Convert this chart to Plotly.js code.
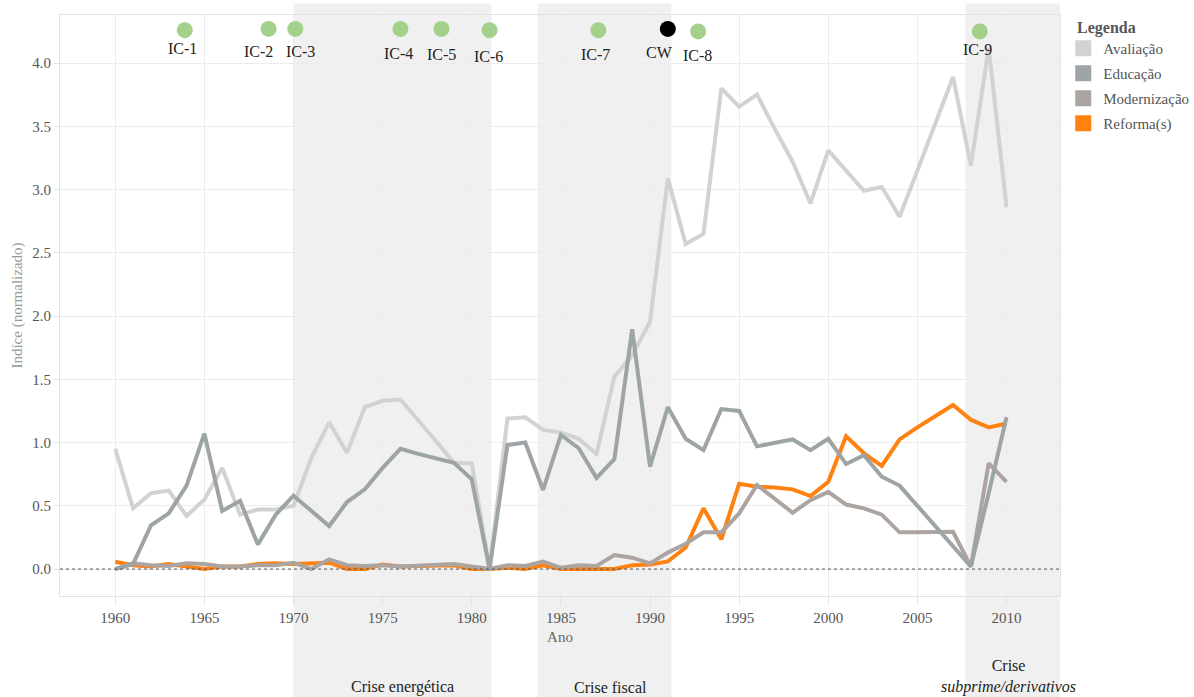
<!DOCTYPE html>
<html>
<head>
<meta charset="utf-8">
<script src="https://cdn.plot.ly/plotly-3.0.1.min.js"></script>
<style>
html,body{margin:0;padding:0;background:#fff;}
#chart{width:1194px;height:697px;}
</style>
</head>
<body>
<div id="chart"></div>
<script>
// ---- data ----
var years = [1960,1961,1962,1963,1964,1965,1966,1967,1968,1969,
             1970,1971,1972,1973,1974,1975,1976,1977,1978,1979,
             1980,1981,1982,1983,1984,1985,1986,1987,1988,1989,
             1990,1991,1992,1993,1994,1995,1996,1997,1998,1999,
             2000,2001,2002,2003,2004,2005,2006,2007,2008,2009,
             2010];
var avaliacao = [0.95,0.48,0.60,0.62,0.42,0.55,0.80,0.43,0.47,0.47,
                 0.50,0.88,1.16,0.92,1.28,1.33,1.34,1.18,1.01,0.84,
                 0.835,0.01,1.19,1.20,1.10,1.08,1.03,0.91,1.52,1.69,
                 1.955,3.09,2.57,2.65,3.80,3.655,3.75,3.48,3.22,2.89,
                 3.31,3.15,2.99,3.02,2.785,3.15,3.52,3.89,3.19,4.12,
                 2.86];
var educacao = [0.0,0.04,0.345,0.44,0.66,1.07,0.46,0.54,0.195,0.43,
                0.58,0.46,0.34,0.53,0.63,0.80,0.95,0.91,0.875,0.84,
                0.71,0.0,0.98,1.0,0.625,1.06,0.955,0.72,0.87,1.895,
                0.81,1.28,1.03,0.94,1.265,1.25,0.97,0.995,1.025,0.94,
                1.03,0.83,0.90,0.73,0.66,0.50,0.34,0.18,0.02,0.60,
                1.20];
var modernizacao = [0.0,0.045,0.03,0.025,0.045,0.04,0.02,0.02,0.03,0.03,
                    0.05,0.0,0.077,0.03,0.025,0.03,0.02,0.025,0.03,0.04,
                    0.02,0.0,0.03,0.025,0.06,0.01,0.03,0.025,0.11,0.09,
                    0.045,0.13,0.20,0.29,0.29,0.44,0.665,0.55,0.445,0.545,
                    0.61,0.51,0.48,0.43,0.29,0.29,0.29,0.295,0.02,0.835,
                    0.69];
var reformas = [0.058,0.03,0.02,0.04,0.02,0.0,0.02,0.02,0.04,0.045,
                0.04,0.045,0.05,0.0,0.0,0.035,0.02,0.025,0.03,0.03,
                0.0,0.0,0.01,0.0,0.03,0.0,0.0,0.0,0.0,0.03,
                0.035,0.06,0.17,0.48,0.235,0.675,0.65,0.645,0.63,0.577,
                0.69,1.05,0.915,0.815,1.025,1.12,1.21,1.297,1.18,1.12,
                1.15];

var seriesNames = ['Avaliação','Educação','Modernização','Reforma(s)'];
var seriesColors = ['#d2d2d2','#9da4a6','#aca4a1','#ff8210'];

var eventLabels = ['IC-1','IC-2','IC-3','IC-4','IC-5','IC-6','IC-7','CW','IC-8','IC-9'];
var eventYears  = [1963.9,1968.6,1970.1,1976.0,1978.3,1981.0,1987.1,1991.0,1992.7,2008.5];
var eventLevel  = [4.26,4.27,4.27,4.27,4.27,4.26,4.26,4.27,4.25,4.25];
var eventColors = ['#a3d18c','#a3d18c','#a3d18c','#a3d18c','#a3d18c','#a3d18c','#a3d18c','#000000','#a3d18c','#a3d18c'];

var crisisNames = ['Crise energética','Crise fiscal','Crise<br><i>subprime/derivativos</i>'];
var crisisStart = [1970.0,1983.7,2007.7];
var crisisEnd   = [1981.1,1991.2,2013.5];
var crisisLabelX = [1976.1,1987.8,2010.1];

var xTicks = [1960,1965,1970,1975,1980,1985,1990,1995,2000,2005,2010];
var yTicks = [0,0.5,1,1.5,2,2.5,3,3.5,4];
var yTickText = ['0.0','0.5','1.0','1.5','2.0','2.5','3.0','3.5','4.0'];

// ---- styling helpers (pixel offsets of the event labels) ----
var labelDX = [-2,-10,5,-2,0,-1,-3,-8,-1,-2];
var labelDY = [-18,-23,-23,-25,-26,-26,-24,-24,-24,-18];

// ---- traces ----
var FONT = 'Liberation Serif, Times New Roman, serif';
var seriesData = [avaliacao, educacao, modernizacao, reformas];
var drawOrder = [0,3,2,1];
var traces = [];
drawOrder.forEach(function(i){
  traces.push({
    type:'scatter', mode:'lines', x:years, y:seriesData[i],
    name:seriesNames[i], legendgroup:seriesNames[i], showlegend:false,
    line:{color:seriesColors[i], width:4}, hoverinfo:'x+y+name'
  });
});
// legend swatches (square)
for (var i=0;i<seriesNames.length;i++){
  traces.push({
    type:'scatter', mode:'markers', x:[null], y:[null],
    name:seriesNames[i], legendgroup:seriesNames[i], showlegend:true,
    marker:{symbol:'square', size:18, color:seriesColors[i]}
  });
}
traces.push({
  type:'scatter', mode:'markers', x:eventYears, y:eventLevel,
  text:eventLabels, marker:{size:16, color:eventColors},
  showlegend:false, hoverinfo:'text', cliponaxis:false
});

// ---- shapes & annotations ----
var shapes = [];
var annotations = [];
for (var k=0;k<crisisNames.length;k++){
  shapes.push({type:'rect', xref:'x', yref:'paper', x0:crisisStart[k], x1:crisisEnd[k],
               y0:-0.18, y1:1.02, fillcolor:'#f0f0f0', line:{width:0}, layer:'below'});
  annotations.push({xref:'x', yref:'paper', x:crisisLabelX[k], y:-0.175, yanchor:'bottom',
                    text:crisisNames[k], showarrow:false,
                    font:{family:FONT, size:16, color:'#222'}});
}
for (var e=0;e<eventLabels.length;e++){
  annotations.push({xref:'x', yref:'y', x:eventYears[e], y:eventLevel[e],
                    xshift:labelDX[e], yshift:labelDY[e],
                    text:eventLabels[e], showarrow:false,
                    font:{family:FONT, size:16, color:'#222'}});
}
annotations.push({xref:'paper', yref:'paper', x:1.015, y:1.0, xanchor:'left', yanchor:'middle',
                  yshift:-13, text:'<b>Legenda</b>', showarrow:false,
                  font:{family:FONT, size:16, color:'#555'}});
shapes.push({type:'line', xref:'paper', yref:'y', x0:0, x1:1, y0:0, y1:0,
             line:{color:'#555', width:1, dash:'dot'}, layer:'above'});

var layout = {
  width:1194, height:697,
  margin:{l:60, r:134, t:15, b:101},
  paper_bgcolor:'#ffffff', plot_bgcolor:'rgba(0,0,0,0)',
  font:{family:FONT, color:'#555'},
  xaxis:{
    range:[1956.9, 2013.0], tickvals:xTicks, ticktext:xTicks.map(String),
    showgrid:true, gridcolor:'#ececec', gridwidth:1, zeroline:false,
    showline:true, linecolor:'#e2e2e2', mirror:true,
    ticks:'outside', ticklen:8, tickcolor:'#e2e2e2',
    tickfont:{family:FONT, size:15, color:'#555'},
    title:{text:'Ano', font:{family:FONT, size:15, color:'#666'}, standoff:6}
  },
  yaxis:{
    range:[-0.213, 4.38], tickvals:yTicks, ticktext:yTickText,
    showgrid:true, gridcolor:'#ececec', gridwidth:1, zeroline:false,
    showline:true, linecolor:'#e2e2e2', mirror:true,
    ticks:'outside', ticklen:5, tickcolor:'#e2e2e2',
    tickfont:{family:FONT, size:15, color:'#555'},
    title:{text:'Indíce (normalizado)', font:{family:FONT, size:15, color:'#999'}, standoff:6}
  },
  legend:{
    xref:'container', yref:'container',
    x:0.8905, y:0.954, xanchor:'left', yanchor:'top',
    font:{family:FONT, size:15, color:'#555'},
    bgcolor:'rgba(0,0,0,0)', tracegroupgap:2.5, itemwidth:30
  },
  shapes:shapes,
  annotations:annotations,
  showlegend:true
};

Plotly.newPlot('chart', traces, layout, {displayModeBar:false, responsive:false});
</script>
</body>
</html>
